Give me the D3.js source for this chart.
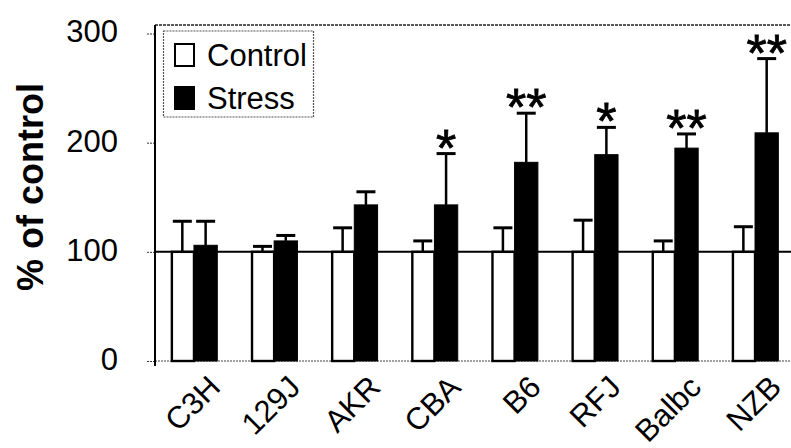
<!DOCTYPE html>
<html>
<head>
<meta charset="utf-8">
<script src="https://cdn.jsdelivr.net/npm/d3@7"></script>
<style>
  html, body { margin: 0; padding: 0; background: #fff; }
  svg { display: block; font-family: "Liberation Sans", Arial, sans-serif; }
</style>
</head>
<body>
<svg id="chart" width="791" height="448"></svg>
<script>
// ---- data ----
const strains = ["C3H", "129J", "AKR", "CBA", "B6", "RFJ", "Balbc", "NZB"];
const series = ["Control", "Stress"];
const controlMean = [100, 100, 100, 100, 100, 100, 100, 100];
const controlErr  = [28, 5, 22, 10, 22, 29, 10, 23];
const stressMean  = [106, 110, 143, 143, 182, 189, 195, 209];
const stressErr   = [22, 5, 12, 47, 45, 25, 13, 68];
const significance = ["", "", "", "*", "**", "*", "**", "**"];
const yTicks = [0, 100, 200, 300];
const referenceValue = 100;

// ---- layout ----
const svg = d3.select("#chart");
const W = 791;
const plotLeft = 155, plotTop = 25, plotBottom = 361;

const x = d3.scaleBand().domain(strains).range([154, 795])
  .paddingInner(0.4185).paddingOuter(0.208);
const xs = d3.scaleBand().domain(series).range([0, x.bandwidth()]).padding(0);
const y = d3.scaleLinear().domain([0, 300]).range([plotBottom, 33.5]);

const rows = strains.map((s, i) => ({
  strain: s,
  bars: [
    { key: "Control", mean: controlMean[i], err: controlErr[i] },
    { key: "Stress", mean: stressMean[i], err: stressErr[i] }
  ],
  sig: significance[i]
}));

// frame: top dotted, bottom dotted
svg.append("line").attr("x1", plotLeft).attr("x2", W).attr("y1", plotTop).attr("y2", plotTop)
  .attr("stroke", "#222").attr("stroke-width", 1.5).attr("stroke-dasharray", "3,1");
svg.append("line").attr("x1", plotLeft).attr("x2", W).attr("y1", y(0)).attr("y2", y(0))
  .attr("stroke", "#444").attr("stroke-width", 1.2).attr("stroke-dasharray", "2,1");

// y axis
const yAxis = d3.axisLeft(y).tickValues(yTicks).tickSize(8).tickPadding(29);
const gy = svg.append("g").attr("transform", `translate(${plotLeft},0)`).call(yAxis);
gy.select(".domain").remove();
gy.selectAll(".tick line").attr("stroke", "#333").attr("stroke-width", 1)
  .attr("stroke-dasharray", "2,1");
gy.selectAll(".tick text").attr("font-size", 31).attr("fill", "#000")
  .attr("dy", "0.27em").attr("font-family", "'Liberation Sans', Arial, sans-serif");
svg.append("line").attr("x1", plotLeft).attr("x2", plotLeft).attr("y1", plotTop).attr("y2", 366)
  .attr("stroke", "#000").attr("stroke-width", 2);

// y title
svg.append("text")
  .attr("transform", `translate(43,187) rotate(-90)`)
  .attr("text-anchor", "middle")
  .attr("font-size", 36).attr("font-weight", "bold")
  .text("% of control");

// bars
const groups = svg.append("g").selectAll("g").data(rows).join("g")
  .attr("transform", d => `translate(${x(d.strain)},0)`);

// error bars (upward only)
const capW = 19;
groups.selectAll("g.err").data(d => d.bars).join("g").attr("class", "err")
  .each(function (b) {
    const g = d3.select(this);
    const cx = xs(b.key) + xs.bandwidth() / 2;
    g.append("line").attr("x1", cx).attr("x2", cx)
      .attr("y1", y(b.mean)).attr("y2", y(b.mean + b.err))
      .attr("stroke", "#000").attr("stroke-width", 2.5);
    g.append("line").attr("x1", cx - capW / 2).attr("x2", cx + capW / 2)
      .attr("y1", y(b.mean + b.err)).attr("y2", y(b.mean + b.err))
      .attr("stroke", "#000").attr("stroke-width", 3);
  });

groups.selectAll("rect").data(d => d.bars).join("rect")
  .attr("x", b => xs(b.key) + (b.key === "Control" ? 1.2 : 0))
  .attr("width", b => xs.bandwidth() - (b.key === "Control" ? 1.2 : 0))
  .attr("y", b => y(b.mean))
  .attr("height", b => y(0) - y(b.mean))
  .attr("fill", b => b.key === "Control" ? "#fff" : "#000")
  .attr("stroke", "#000")
  .attr("stroke-width", b => b.key === "Control" ? 2.4 : 1);

// reference line at 100
svg.append("line").attr("x1", plotLeft).attr("x2", W)
  .attr("y1", y(referenceValue)).attr("y2", y(referenceValue))
  .attr("stroke", "#000").attr("stroke-width", 2);

// significance asterisks
groups.append("text")
  .attr("x", xs("Stress") + xs.bandwidth() / 2)
  .attr("y", (d, i) => y(stressMean[i] + stressErr[i]) + 12)
  .attr("text-anchor", "middle")
  .attr("font-size", 52)
  .attr("stroke", "#000").attr("stroke-width", 0.8)
  .text(d => d.sig);

// x labels
svg.append("g").selectAll("text").data(strains).join("text")
  .attr("transform", d => `translate(${x(d) + x.bandwidth() / 2 + 28},389) rotate(-45)`)
  .attr("text-anchor", "end")
  .attr("font-size", 31)
  .text(d => d);

// legend
const lg = svg.append("g");
lg.append("rect").attr("x", 163.5).attr("y", 31).attr("width", 150).attr("height", 86)
  .attr("fill", "#fff").attr("stroke", "#555").attr("stroke-width", 1.2)
  .attr("stroke-dasharray", "2,1");
const legendItems = lg.selectAll("g").data(series).join("g")
  .attr("transform", (d, i) => `translate(0,${i * 43})`);
legendItems.append("rect")
  .attr("x", 175).attr("y", 44).attr("width", 19).attr("height", 22)
  .attr("fill", d => d === "Control" ? "#fff" : "#000")
  .attr("stroke", "#000").attr("stroke-width", 2);
legendItems.append("text")
  .attr("x", 207).attr("y", 65.5)
  .attr("font-size", 31)
  .text(d => d);
</script>
</body>
</html>
